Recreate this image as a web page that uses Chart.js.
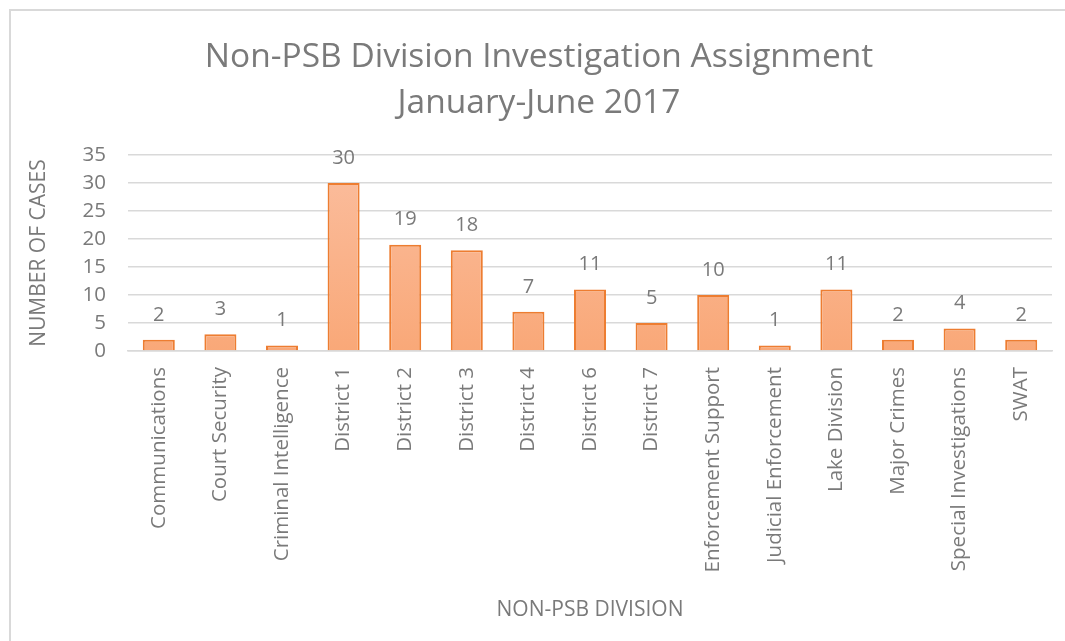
<!DOCTYPE html>
<html>
<head>
<meta charset="utf-8">
<script src="https://cdn.jsdelivr.net/npm/chart.js@4/dist/chart.umd.min.js"></script>
<style>
  html, body { margin: 0; padding: 0; background: #fff; }
  #wrap { position: relative; width: 1065px; height: 641px; overflow: hidden; }
  #frame { position: absolute; left: 9px; top: 9px; width: 1100px; height: 700px; border: 2px solid #d9d9d9; box-sizing: border-box; }
  #chart { position: absolute; left: 0; top: 0; }
</style>
</head>
<body>
<div id="wrap">
  <div id="frame"></div>
  <canvas id="chart" width="1065" height="641"></canvas>
</div>
<script>
const divisiones = ['Communications', 'Court Security', 'Criminal Intelligence', 'District 1', 'District 2',
  'District 3', 'District 4', 'District 6', 'District 7', 'Enforcement Support', 'Judicial Enforcement',
  'Lake Division', 'Major Crimes', 'Special Investigations', 'SWAT'];
const casos = [2, 3, 1, 30, 19, 18, 7, 11, 5, 10, 1, 11, 2, 4, 2];
const tituloLineas = ['Non-PSB Division Investigation Assignment', 'January-June 2017'];

const FONT = '"Open Sans", sans-serif';
const GRIS = '#7a7a7a';

// etiquetas de valor encima de cada barra
const etiquetas = {
  id: 'etiquetas',
  afterDatasetsDraw(chart) {
    const { ctx } = chart;
    const meta = chart.getDatasetMeta(0);
    ctx.save();
    ctx.font = '20px ' + FONT;
    ctx.fillStyle = GRIS;
    ctx.textAlign = 'center';
    ctx.textBaseline = 'middle';
    meta.data.forEach((bar, i) => {
      ctx.fillText(String(casos[i]), bar.x, bar.y - 25);
    });
    ctx.restore();
  }
};

function relleno(ctx) {
  const area = ctx.chart.chartArea;
  if (!area) return '#fbb48c';
  const g = ctx.chart.ctx.createLinearGradient(0, area.top, 0, area.bottom);
  g.addColorStop(0, '#fbbe9f');
  g.addColorStop(1, '#f9a878');
  return g;
}

new Chart(document.getElementById('chart'), {
  type: 'bar',
  data: {
    labels: divisiones,
    datasets: [{
      data: casos,
      backgroundColor: relleno,
      borderColor: '#ed7d31',
      borderWidth: 2,
      borderSkipped: 'bottom',
      categoryPercentage: 1,
      barPercentage: 0.52
    }]
  },
  options: {
    responsive: false,
    animation: false,
    layout: { padding: { left: 26, right: 13, top: 0, bottom: 0 } },
    plugins: {
      legend: { display: false },
      tooltip: { enabled: false },
      title: {
        display: true,
        text: tituloLineas,
        color: GRIS,
        font: { family: FONT, size: 33.5, weight: 'normal', lineHeight: 1.36 },
        padding: { top: 35, bottom: 29 }
      }
    },
    scales: {
      y: {
        min: 0,
        max: 35,
        ticks: { stepSize: 5, autoSkip: false, color: GRIS, font: { family: FONT, size: 20.5 }, padding: 22 },
        grid: { color: '#d9d9d9', lineWidth: 1.5, drawTicks: false },
        border: { display: false },
        title: {
          display: true,
          text: 'NUMBER OF CASES',
          color: GRIS,
          font: { family: FONT, size: 21 },
          padding: 0
        },
        afterFit: s => { s.width = 102; }
      },
      x: {
        ticks: {
          color: GRIS,
          font: { family: FONT, size: 20.5 },
          minRotation: 90,
          maxRotation: 90,
          autoSkip: false,
          padding: 16
        },
        grid: { display: false, drawTicks: false },
        border: { color: '#d9d9d9', width: 1.5 },
        title: {
          display: true,
          text: 'NON-PSB DIVISION',
          color: GRIS,
          font: { family: FONT, size: 21 },
          padding: { top: 0, bottom: 18 }
        },
        afterFit: s => { s.height = 290; }
      }
    }
  },
  plugins: [etiquetas]
});
</script>
</body>
</html>
